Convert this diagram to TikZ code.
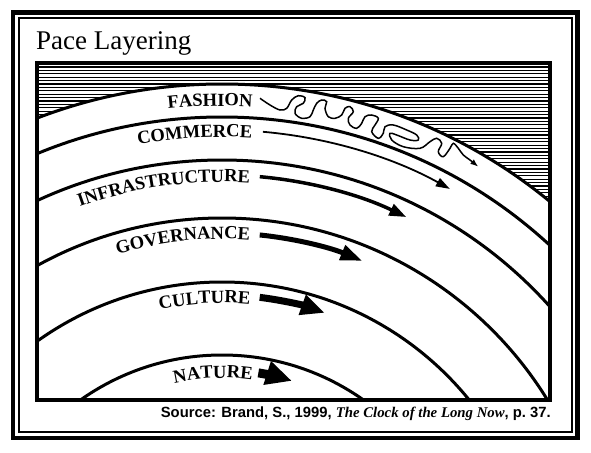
\documentclass[tikz,border=0pt]{standalone}
\usepackage{fontspec}
\setmainfont{Liberation Serif}
\newfontfamily\srcfont{Liberation Sans}
\usepackage{tikz}
\usetikzlibrary{arrows.meta,decorations.text}

\newcommand{\lblfont}{\bfseries\fontsize{18.5}{18.5}\selectfont}
\newcommand{\ringlabel}[3]{\path[decorate, decoration={text along path, text align=right, text={|\lblfont|#3}}] ({#2-40}:#1) arc[start angle={#2-40}, end angle=#2, radius=#1];}

\tikzset{
  ring/.style={line width=3pt},
  hatch/.style={line width=1.1pt},
  flow/.style n args={3}{line width=#1, -{Triangle[length=#2, width=#3]}},
  squiggle/.style={line width=1.5pt, -{Latex[length=8pt,width=6pt]}},
}

\begin{document}
\begin{tikzpicture}[x=1pt, y=-1pt]
  \useasboundingbox (0,0) rectangle (591,452);
  % рамка
  \draw[line width=4.5pt] (13,12.5) rectangle (577.5,438);
  \draw[line width=2pt] (18.5,18.5) rectangle (571.5,432);
  \node[anchor=base west, inner sep=0] (title) at (36,50) {\fontsize{27}{27}\selectfont Pace Layering};
  \begin{scope}
    \clip (37,63) rectangle (550,399.5);
    % штриховка
    \foreach \y in {67,70.4,...,210} \draw[hatch] (37,\y) -- (550,\y);
    \begin{scope}[shift={(222,600)}]
      \fill[white] (0,0) circle[radius=516];
      % слои
      \foreach \r in {516,483,440,382,318,245} \draw[ring] (0,0) circle[radius=\r];
      % подписи
      \ringlabel{494}{-86.5}{FASHION}
      \ringlabel{463}{-86.3}{COMMERCE}
      \ringlabel{418}{-86.2}{INFRASTRUCTURE}
      \ringlabel{361}{-85.6}{GOVERNANCE}
      \ringlabel{297}{-84.6}{CULTURE}
      \ringlabel{222}{-82.2}{NATURE}
      % стрелки
      \draw[flow={1.8pt}{14pt}{9pt}] (-85:470) arc[start angle=-85, end angle=-61, radius=470];
      \draw[flow={3.5pt}{17pt}{12pt}] (-84.9:425) arc[start angle=-84.9, end angle=-64.3, radius=425];
      \draw[flow={5pt}{22pt}{15pt}] (-84.1:367) arc[start angle=-84.1, end angle=-67.5, radius=367];
      \draw[flow={7pt}{24pt}{20pt}] (-82.9:305) arc[start angle=-82.9, end angle=-70.3, radius=305];
      \draw[flow={9pt}{26pt}{23pt}] (-80.9:230) arc[start angle=-80.9, end angle=-72.3, radius=230];
    \end{scope}
    % мода
    \draw[squiggle] plot[smooth, tension=0.6] coordinates {
      (260,98.3) (270,105) (280,110) (286.7,108.3) (291.7,100) (298.3,95.7)
      (305,97.7) (303.3,103.3) (296.7,106.7) (295,113.3) (301.7,118.3) (310,116.7)
      (313.3,110) (316.7,103.3) (321.7,100) (326.7,101.7) (325,108.3) (328.3,116.7)
      (335,118.3) (341.7,115) (345,108.3) (350,106.7) (353.3,111.7) (348.3,118.3)
      (350,125) (356.7,128.3) (361.7,123.3) (365,116.7) (371.7,115) (378.3,118.3)
      (375,125) (371.7,131.7) (378.3,138.3) (383.3,133.3) (385,126.7) (393.3,125)
      (406.7,130) (416.7,135) (418.3,140) (410,140) (396.7,135) (390,133.3)
      (391.7,140) (403.3,146.7) (420,148.3) (430,141.7) (436.7,138.3) (441.7,143.3)
      (438.3,151.7) (443.3,156.7) (450,148.3) (453.3,143.3) (458.3,148.3) (463.3,155)
      (470,160) (478.3,166.7)};
  \end{scope}
  \draw[line width=4pt] (37,63) rectangle (550,399.5);
  % источник
  \node[anchor=base east, inner sep=0] (source) at (551,417) {\srcfont\bfseries\fontsize{14.8}{14.8}\selectfont Source: Brand, S., 1999, {\rmfamily\itshape The Clock of the Long Now}, p.~37.};
\end{tikzpicture}
\end{document}
